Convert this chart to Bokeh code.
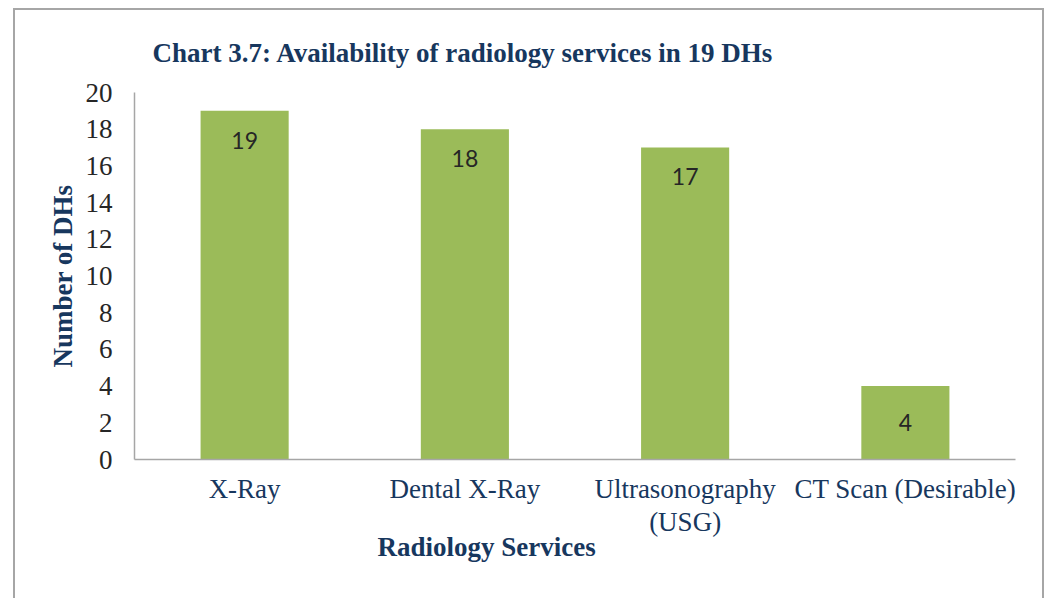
from bokeh.plotting import figure
from bokeh.models import ColumnDataSource, FactorRange, Range1d, FixedTicker, Title
from bokeh.embed import file_html
from bokeh.resources import INLINE
from bokeh.core.properties import value

# ---- data ----
categories = ["X-Ray", "Dental X-Ray", "Ultrasonography\n(USG)", "CT Scan (Desirable)"]
counts = [19, 18, 17, 4]
y_ticks = [0, 2, 4, 6, 8, 10, 12, 14, 16, 18, 20]
title_text = "Chart 3.7: Availability of radiology services in 19 DHs"
x_title = "Radiology Services"
y_title = "Number of DHs"

NAVY = "#17375e"
GREEN = "#9bbb59"
GRAY = "#a6a6a6"
SERIF = "Liberation Serif"

# labels sit just inside the bar end, short bars get the label centred
label_y = [v / 2 if v < 5 else v - 1.6 for v in counts]
src = ColumnDataSource(dict(cat=categories, val=counts, ly=label_y,
                            lab=[str(v) for v in counts]))

p = figure(x_range=FactorRange(*categories), y_range=Range1d(0, 20),
           frame_width=881, frame_height=367,
           min_border_left=119, min_border_right=27,
           min_border_top=82, min_border_bottom=139,
           output_backend="svg", toolbar_location=None,
           title=title_text)

p.vbar(x="cat", top="val", width=0.4, source=src, fill_color=GREEN,
       line_color=None)
p.text(x="cat", y="ly", text="lab", source=src, text_align="center",
       text_baseline="middle", text_font=value("Lato"),
       text_font_size="23px", text_color="#262626")

p.title.text_font = SERIF
p.title.text_font_style = "bold"
p.title.text_font_size = "27px"
p.title.text_color = NAVY
p.title.align = "left"
p.title.offset = 18
p.title.standoff = 50

p.xgrid.visible = False
p.ygrid.visible = False
p.outline_line_color = None

for ax in (p.xaxis[0], p.yaxis[0]):
    ax.axis_line_color = GRAY
    ax.axis_line_width = 1.5
    ax.major_tick_line_color = None
    ax.minor_tick_line_color = None
    ax.major_label_text_font = SERIF
    ax.major_label_text_font_size = "27px"
    ax.axis_label_text_font = SERIF
    ax.axis_label_text_font_size = "27px"
    ax.axis_label_text_font_style = "bold"
    ax.axis_label_text_color = NAVY

p.yaxis.ticker = FixedTicker(ticks=y_ticks)
p.yaxis.major_label_text_color = "#262626"
p.yaxis.major_label_standoff = 16
p.yaxis.axis_label = y_title
p.yaxis.axis_label_standoff = 5

p.xaxis.major_label_text_color = NAVY
p.xaxis.major_label_standoff = 8
p.xaxis.major_label_text_line_height = 1.1

xt = Title(text=x_title, align="left", offset=243, standoff=-20,
           text_font=SERIF, text_font_size="27px", text_font_style="bold",
           text_color=NAVY)
p.add_layout(xt, "below")

p.styles = {"border-top": "2px solid #a6a6a6",
            "border-left": "2px solid #a6a6a6",
            "border-right": "2px solid #a6a6a6",
            "margin-left": "13px",
            "margin-top": "8px"}

open("out.html", "w").write(file_html(p, INLINE))
